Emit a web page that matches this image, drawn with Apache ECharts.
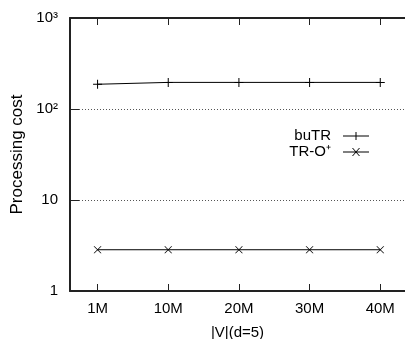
<!DOCTYPE html>
<html>
<head>
<meta charset="utf-8">
<script src="https://cdn.jsdelivr.net/npm/echarts@6/dist/echarts.min.js"></script>
<style>
  html, body { margin: 0; padding: 0; background: #fff; }
  #chart { width: 405px; height: 339px; }
</style>
</head>
<body>
<div id="chart"></div>
<script>
const sizes = ['1M', '10M', '20M', '30M', '40M'];
const buTR = [187, 196, 196, 196, 196];
const trOPlus = [2.84, 2.84, 2.84, 2.84, 2.84];
const yTickLabels = { 1: '1', 10: '10', 100: '10²', 1000: '10³' };

const font = '"Liberation Sans", Arial, sans-serif';
const tickPos = sizes.map((s, i) => i);
const frame = { color: '#222', width: 2 };

// thin filled shapes so they render like gnuplot point types
const plusPath = 'path://M0,4h9v1h-9z M4,0h1v9h-1z';
const crossPath = 'path://M0,0h1l7,7h-1z M7,0h1l-7,7h-1z';
const plusLegend = 'path://M0,3.5h26v1h-26z M12.5,0h1v8h-1z';
const crossLegend = 'path://M0,3.5h26v1h-26z M9,0h1l7,8h-1z M16,0h1l-7,8h-1z';

const chart = echarts.init(document.getElementById('chart'));

chart.setOption({
    animation: false,
    backgroundColor: '#fff',
    grid: { left: 70, right: 0, top: 18, bottom: 48, outerBoundsMode: 'none' },
    legend: {
        orient: 'vertical',
        right: 31,
        top: 123,
        align: 'right',
        itemWidth: 26,
        itemHeight: 8,
        itemGap: 0,
        selectedMode: false,
        textStyle: {
            fontFamily: font, fontSize: 15, color: '#000', lineHeight: 16,
            padding: [0, 7, 0, 0]
        },
        formatter: name => name === 'TR-O+' ? 'TR-O⁺' : name,
        data: [
            { name: 'buTR', icon: plusLegend, itemStyle: { color: '#000' } },
            { name: 'TR-O+', icon: crossLegend, itemStyle: { color: '#000' } }
        ]
    },
    xAxis: [
        {
            type: 'value',
            min: -0.39,
            max: 4.35,
            name: '|V|(d=5)',
            nameLocation: 'middle',
            nameGap: 34,
            nameTextStyle: { fontSize: 15, fontFamily: font, color: '#000' },
            axisLine: { show: true, onZero: false, lineStyle: frame },
            axisTick: { show: true, inside: true, length: 7 },
            axisLabel: {
                customValues: tickPos,
                margin: 10,
                fontSize: 15, fontFamily: font, color: '#000',
                formatter: v => sizes[Math.round(v)]
            },
            splitLine: { show: false }
        },
        {
            type: 'value',
            position: 'top',
            min: -0.39,
            max: 4.35,
            axisLine: { show: true, onZero: false, lineStyle: frame },
            axisTick: { show: true, inside: true, length: 7 },
            axisLabel: { customValues: tickPos, color: 'rgba(0,0,0,0)', formatter: () => '' },
            splitLine: { show: false }
        }
    ],
    yAxis: {
        type: 'log',
        min: 1,
        max: 1000,
        name: 'Processing cost',
        nameLocation: 'middle',
        nameGap: 44,
        nameTextStyle: { fontSize: 17, fontFamily: font, color: '#000' },
        axisLine: { show: true, onZero: false, lineStyle: frame },
        axisTick: { show: true, inside: true, length: 9 },
        axisLabel: {
            margin: 12,
            fontSize: 15, fontFamily: font, color: '#000',
            formatter: v => yTickLabels[Math.round(v)] || String(v)
        },
        splitLine: {
            show: true,
            lineStyle: { color: '#555', width: 1, type: [1, 2] }
        }
    },
    series: [
        {
            name: 'buTR',
            type: 'line',
            data: buTR.map((v, i) => [i, v]),
            symbol: plusPath,
            symbolSize: 9,
            itemStyle: { color: '#000' },
            lineStyle: { color: '#000', width: 1 }
        },
        {
            name: 'TR-O+',
            type: 'line',
            data: trOPlus.map((v, i) => [i, v]),
            symbol: crossPath,
            symbolSize: [8, 7],
            itemStyle: { color: '#000' },
            lineStyle: { color: '#000', width: 1 }
        }
    ]
});
</script>
</body>
</html>
